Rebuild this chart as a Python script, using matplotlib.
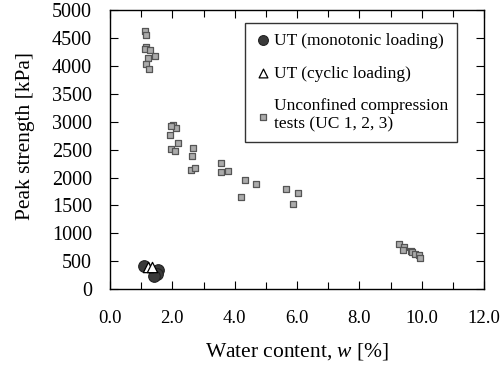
import numpy as np
import matplotlib.pyplot as plt
from matplotlib.ticker import MultipleLocator

plt.rcParams['font.family'] = ['Liberation Serif', 'DejaVu Serif']
plt.rcParams['mathtext.fontset'] = 'custom'
plt.rcParams['mathtext.rm'] = 'Liberation Serif'
plt.rcParams['mathtext.it'] = 'Liberation Serif:italic'

# UT (monotonic loading)
mono_w = [1.10, 1.55, 1.50, 1.42]
mono_s = [410, 335, 270, 235]

# UT (cyclic loading)
cyc_w = [1.23, 1.34]
cyc_s = [400, 400]

# Unconfined compression tests (UC 1, 2, 3)
uc_w = [1.11, 1.17, 1.14, 1.13, 1.28, 1.43, 1.23, 1.16, 1.25,
        2.02, 2.13, 1.95, 1.93, 2.17, 1.97, 2.09, 2.66, 2.63, 2.59, 2.72,
        3.57, 3.57, 3.78, 4.32, 4.69, 4.19, 5.64, 6.02, 5.87,
        9.28, 9.42, 9.40, 9.65, 9.70, 9.80, 9.90, 9.96]
uc_s = [4630, 4550, 4340, 4300, 4280, 4180, 4145, 4030, 3940,
        2940, 2880, 2920, 2760, 2620, 2510, 2475, 2520, 2380, 2140, 2170,
        2255, 2090, 2120, 1950, 1880, 1655, 1790, 1720, 1530,
        810, 760, 705, 675, 660, 630, 620, 560]

fig = plt.figure(figsize=(5, 3.74), dpi=100)
ax = fig.add_axes([0.22, 0.227, 0.748, 0.746])

ax.scatter(uc_w, uc_s, marker='s', s=22, facecolor='#ababab', edgecolor='#555555',
           linewidth=0.9, zorder=3, label='Unconfined compression\ntests (UC 1, 2, 3)')
ax.scatter(mono_w, mono_s, marker='o', s=70, facecolor='#3a3a3a', edgecolor='#222222',
           linewidth=0.8, zorder=4, label='UT (monotonic loading)')
ax.scatter(cyc_w, cyc_s, marker='^', s=55, facecolor='white', edgecolor='black',
           linewidth=0.9, zorder=5, label='UT (cyclic loading)')

ax.set_xlim(0, 12)
ax.set_ylim(0, 5000)
ax.xaxis.set_major_locator(MultipleLocator(2))
ax.xaxis.set_minor_locator(MultipleLocator(1))
ax.yaxis.set_major_locator(MultipleLocator(500))
ax.xaxis.set_major_formatter(plt.FormatStrFormatter('%.1f'))
ax.tick_params(which='both', direction='in', top=True, right=True)
ax.tick_params(axis='y', labelsize=14.5)
ax.tick_params(axis='x', labelsize=13.5)
ax.tick_params(which='major', length=6, width=0.8)
ax.tick_params(which='minor', length=5, width=0.8)
ax.tick_params(axis='x', which='major', pad=15)
ax.tick_params(axis='y', which='major', pad=13)
for sp in ax.spines.values():
    sp.set_linewidth(1.0)

ax.set_xlabel('Water content, $\\mathit{w}$ [%]', fontsize=15.5, labelpad=10)
ax.set_ylabel('Peak strength [kPa]', fontsize=15.5)
ax.yaxis.set_label_coords(-0.2, 0.55)

h, l = ax.get_legend_handles_labels()
order = [1, 2, 0]
leg = ax.legend([h[i] for i in order], [l[i] for i in order],
                loc='upper left', bbox_to_anchor=(0.49, 0.938), bbox_transform=fig.transFigure,
                frameon=True, fancybox=False, edgecolor='black', fontsize=12.5,
                handletextpad=0.1, handlelength=1.0, labelspacing=0.95,
                borderpad=0.55, borderaxespad=0)
leg.get_frame().set_linewidth(1.0)
leg.legend_handles[0].set_sizes([50])
leg.legend_handles[1].set_sizes([40])
leg.legend_handles[2].set_sizes([18])

fig.savefig('out.png', dpi=100)
